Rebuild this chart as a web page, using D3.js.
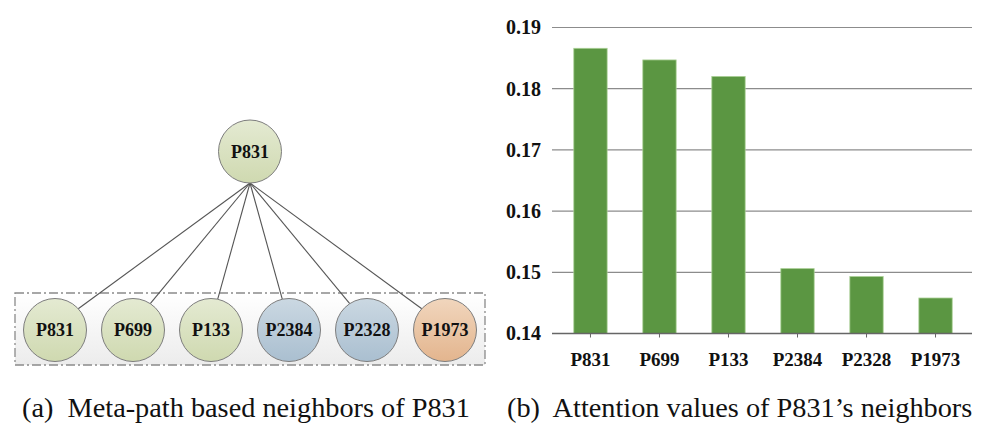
<!DOCTYPE html>
<html><head><meta charset="utf-8">
<script src="https://cdn.jsdelivr.net/npm/d3@7"></script>
<style>body{margin:0;background:#fff}svg{display:block}</style>
</head><body>
<svg id="c" width="994" height="426"></svg>
<script>
const categories = ["P831","P699","P133","P2384","P2328","P1973"];
const attention = [0.1866,0.1847,0.1820,0.1506,0.1493,0.1458];
const yTicks = [0.14,0.15,0.16,0.17,0.18,0.19];
const nodeTypes = ["green","green","green","blue","blue","orange"];
const rootNode = "P831";
const captions = ["(a)  Meta-path based neighbors of P831","(b)  Attention values of P831\u2019s neighbors"];

const svg = d3.select("#c");
const serif = "Liberation Serif, Times New Roman, serif";
const defs = svg.append("defs");
const pal = {green:["#e4ead2","#cfd9b0"],blue:["#cbd8e2","#aabfd0"],orange:["#f1d6bd","#e3b58e"]};
Object.entries(pal).forEach(([k,c])=>{
  const g=defs.append("linearGradient").attr("id","g_"+k).attr("x1",0).attr("y1",0).attr("x2",0).attr("y2",1);
  g.append("stop").attr("offset","0%").attr("stop-color",c[0]);
  g.append("stop").attr("offset","100%").attr("stop-color",c[1]);
});
const bg=defs.append("linearGradient").attr("id","boxg").attr("x1",0).attr("y1",0).attr("x2",0).attr("y2",1);
bg.append("stop").attr("offset","0%").attr("stop-color","#ffffff");
bg.append("stop").attr("offset","100%").attr("stop-color","#ececec");

// ---- left diagram ----
const r = 31.5;
const xn = d3.scalePoint().domain(categories.map((d,i)=>i)).range([55,445]);
const rootX = 250, rootY = 151.5, rowY = 330;
const left = svg.append("g");
left.append("rect").attr("x",15).attr("y",293).attr("width",470).attr("height",72)
  .attr("fill","url(#boxg)").attr("stroke","#8a8a8a").attr("stroke-width",1.3)
  .attr("stroke-dasharray","9,3,2,3");
categories.forEach((c,i)=>{
  const x=xn(i), dx=x-rootX, dy=rowY-rootY, L=Math.hypot(dx,dy);
  left.append("line").attr("x1",rootX).attr("y1",rootY+r)
    .attr("x2",x-dx/L*r).attr("y2",rowY-dy/L*r)
    .attr("stroke","#555").attr("stroke-width",1.1);
});
function node(x,y,label,type){
  left.append("circle").attr("cx",x).attr("cy",y).attr("r",r)
    .attr("fill","url(#g_"+type+")").attr("stroke","#7d7d7d").attr("stroke-width",1);
  left.append("text").attr("x",x).attr("y",y).attr("dy","0.35em").attr("text-anchor","middle")
    .style("font-family",serif).attr("font-weight","bold").attr("font-size",18).attr("fill","#111").text(label);
}
node(rootX,rootY,rootNode,"green");
categories.forEach((c,i)=>node(xn(i),rowY,c,nodeTypes[i]));

// ---- right bar chart ----
const x = d3.scaleBand().domain(categories).range([556,970]).paddingInner(0.517).paddingOuter(0.258);
const y = d3.scaleLinear().domain([0.14,0.19]).range([333.5,27.5]);
const right = svg.append("g");
right.append("g").selectAll("line").data(yTicks.slice(1)).join("line")
  .attr("x1",552).attr("x2",972).attr("y1",d=>y(d)).attr("y2",d=>y(d))
  .attr("stroke","#8c8c8c").attr("stroke-width",1.2);
right.selectAll("rect.bar").data(categories).join("rect").attr("class","bar")
  .attr("x",d=>x(d)).attr("width",x.bandwidth())
  .attr("y",(d,i)=>y(attention[i])).attr("height",(d,i)=>y(0.14)-y(attention[i]))
  .attr("fill","#5b9642").attr("stroke","#a9cf94").attr("stroke-width",0.8);
const xa = right.append("g").attr("transform","translate(0,333.5)")
  .call(d3.axisBottom(x).tickSize(4).tickSizeOuter(0));
xa.select(".domain").attr("d","M552,0H972").attr("stroke","#666").attr("stroke-width",1.3);
xa.selectAll(".tick line").attr("stroke","#666");
xa.selectAll("text").style("font-family",serif).attr("font-weight","bold").attr("font-size",19)
  .attr("fill","#111").attr("dy","1.35em");
const ya = right.append("g").attr("transform","translate(552,0)")
  .call(d3.axisLeft(y).tickValues(yTicks).tickFormat(d3.format(".2f")).tickSize(0).tickPadding(11));
ya.select(".domain").remove();
ya.selectAll("text").style("font-family",serif).attr("font-weight","bold").attr("font-size",20).attr("fill","#111");

// ---- captions ----
svg.append("text").attr("x",22).attr("y",417).style("font-family",serif).style("white-space","pre")
  .attr("font-size",28.3).attr("fill","#111").text(captions[0]);
svg.append("text").attr("x",507).attr("y",417).style("font-family",serif).style("white-space","pre")
  .attr("font-size",28.3).attr("fill","#111").text(captions[1]);
</script>
</body></html>
